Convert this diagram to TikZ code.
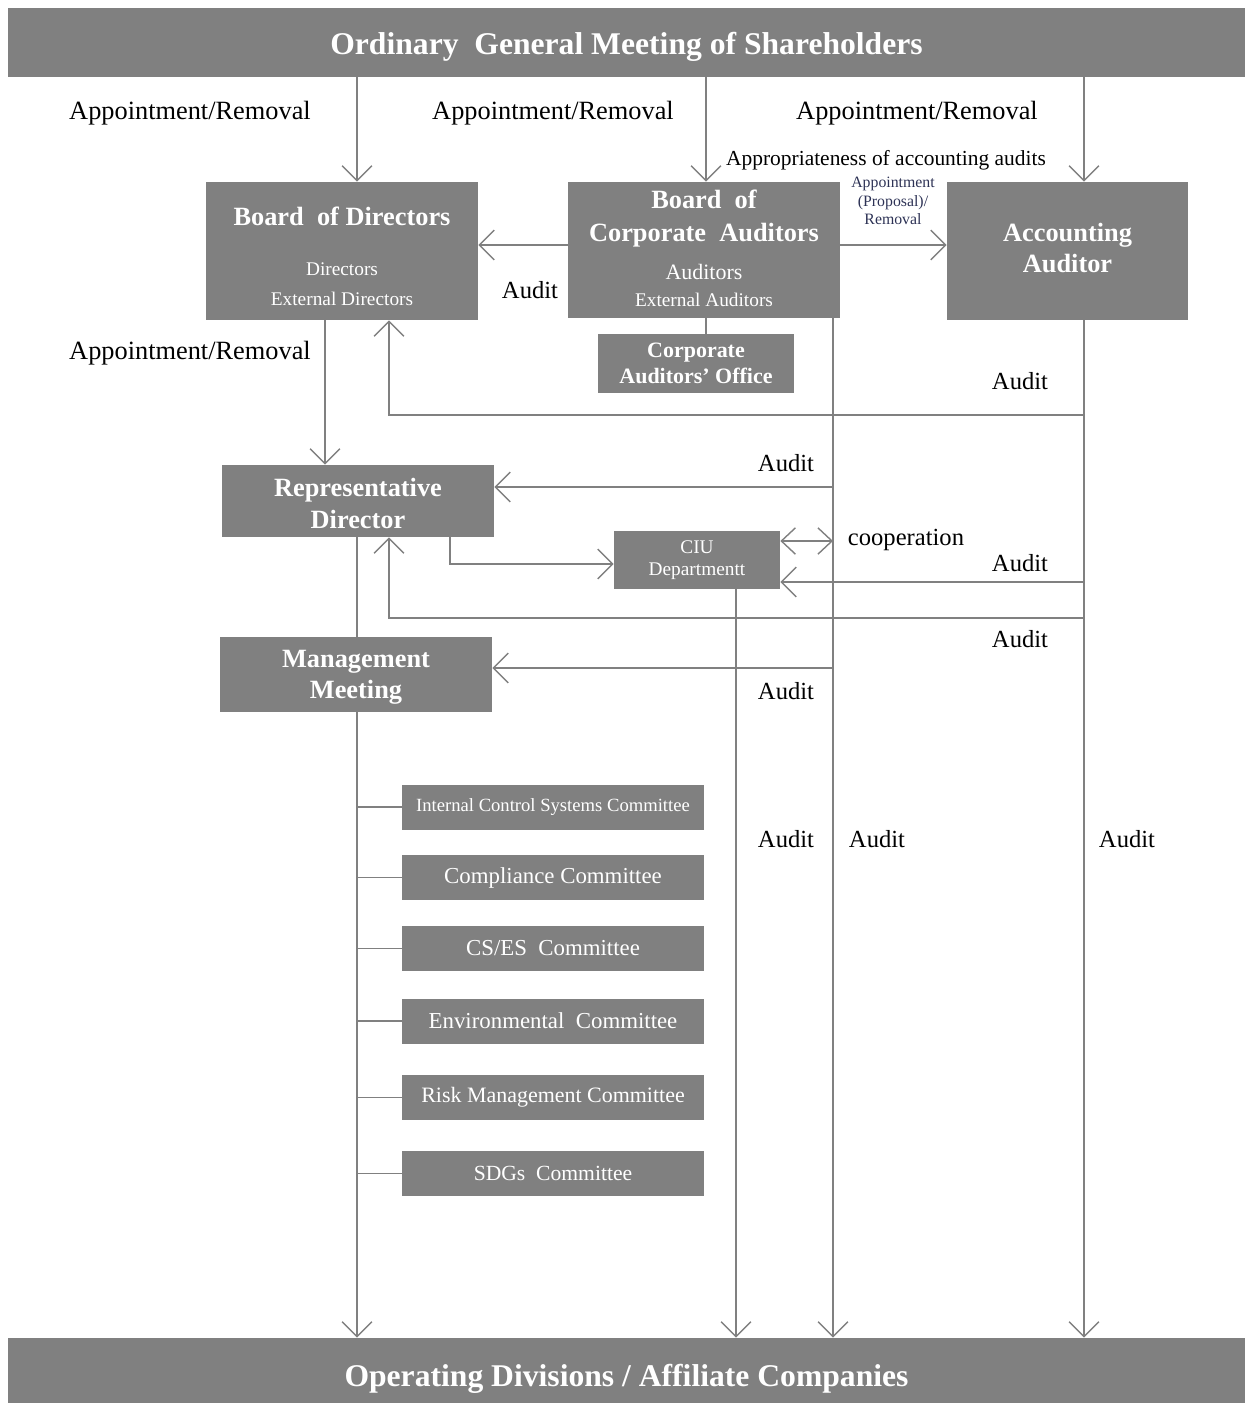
\documentclass[tikz,border=0pt]{standalone}
\usepackage{fontspec}
\setmainfont{Liberation Serif}
\usetikzlibrary{arrows.meta}
\definecolor{smallnavy}{RGB}{45,50,85}
\begin{document}
\begin{tikzpicture}[x=0.02cm, y=-0.02cm,
  bar/.style={fill=gray, text=white, minimum width=24.74cm, inner sep=0pt,
    font=\bfseries\fontsize{18}{21}\selectfont},
  box/.style={fill=gray, text=white, align=center, inner sep=0pt},
  com/.style={box, minimum width=6.04cm, minimum height=0.9cm, font=\fontsize{13}{15}\selectfont},
  lab/.style={font=\fontsize{15}{18}\selectfont},
  aud/.style={font=\fontsize{14}{16}\selectfont},
  ln/.style={draw=gray, line width=0.8pt},
  arr/.style={ln, -{Straight Barb[length=8.5pt, width=17pt]}},
  arrb/.style={ln, {Straight Barb[length=8pt, width=15pt]}-{Straight Barb[length=8pt, width=15pt]}}]
  \useasboundingbox (0,0) rectangle (1245,1403);

  \coordinate (colA) at (357,0);
  \coordinate (colB) at (706,0);
  \coordinate (colC) at (1084,0);
  \coordinate (colD) at (833,0);
  \coordinate (colE) at (736,0);
  \coordinate (colF) at (325,0);
  \coordinate (colG) at (389,0);
  \coordinate (colI) at (450,0);
  \coordinate (rowA) at (0,415);
  \coordinate (rowB) at (0,487);
  \coordinate (rowC) at (0,564);
  \coordinate (rowD) at (0,541);
  \coordinate (rowE) at (0,582);
  \coordinate (rowF) at (0,618);
  \coordinate (rowG) at (0,668);
  \coordinate (rowH) at (0,245);

  \node[bar, minimum height=1.38cm, text height=13.6pt, text depth=0pt] (gms) at (626.5,42.5)
    {Ordinary\ \ General Meeting of Shareholders};
  \node[bar, minimum height=1.3cm, text height=18pt, text depth=0pt] (ops) at (626.5,1370.5)
    {Operating Divisions / Affiliate Companies};

  \node[box, minimum width=5.44cm, minimum height=2.76cm, text height=62.3pt, text depth=0pt, font=\fontsize{11}{17}\selectfont] (bod) at (342,251)
    {{\bfseries\fontsize{15}{18}\selectfont Board\ \ of Directors}\\[11.8pt] Directors\\ External Directors};
  \node[box, minimum width=5.44cm, minimum height=2.72cm, text depth=2.3pt, font=\fontsize{11}{16}\selectfont] (bca) at (704,250)
    {{\bfseries\fontsize{15}{18}\selectfont Board\ \ of}\\[2.7pt]
     {\bfseries\fontsize{15}{18}\selectfont Corporate\ \ Auditors}\\[5.6pt]
     {\fontsize{12.5}{15}\selectfont Auditors}\\[-0.6pt] External Auditors};
  \node[box, minimum width=4.82cm, minimum height=2.76cm, text depth=3.4pt, font=\bfseries\fontsize{15}{18}\selectfont] (aa) at (1067.5,251)
    {Accounting\\Auditor};
  \node[box, minimum width=3.92cm, minimum height=1.18cm, font=\bfseries\fontsize{12.5}{14.7}\selectfont] (cao) at (696,363.5)
    {Corporate\\Auditors’ Office};
  \node[box, minimum width=5.44cm, minimum height=1.44cm, text height=31pt, text depth=0pt, font=\bfseries\fontsize{15}{18}\selectfont] (rd) at (358,501)
    {Representative\\Director};
  \node[box, minimum width=3.32cm, minimum height=1.16cm, font=\fontsize{11}{12.5}\selectfont] (ciu) at (697,560)
    {CIU\\Departmentt};
  \node[box, minimum width=5.44cm, minimum height=1.5cm, text depth=-2pt, font=\bfseries\fontsize{15}{17.6}\selectfont] (mm) at (356,674.5)
    {Management\\Meeting};

  \node[com, font=\fontsize{10.6}{12}\selectfont] (ics) at (553,807) {Internal Control Systems Committee};
  \node[com] (cmp) at (553,877.5) {Compliance Committee};
  \node[com] (cses) at (553,948.5) {CS/ES\ \ Committee};
  \node[com] (env) at (553,1021) {Environmental\ \ Committee};
  \node[com, font=\fontsize{12.5}{15}\selectfont] (risk) at (553,1097.5) {Risk Management Committee};
  \node[com, font=\fontsize{12.3}{15}\selectfont] (sdg) at (553,1173.5) {SDGs\ \ Committee};

  \node[lab] (l1) at (190,113) {Appointment/Removal};
  \node[lab] (l2) at (553,113) {Appointment/Removal};
  \node[lab] (l3) at (917,113) {Appointment/Removal};
  \node[lab] (l4) at (190,353) {Appointment/Removal};
  \node[font=\fontsize{12.2}{14}\selectfont] (l5) at (886,160) {Appropriateness of accounting audits};
  \node[align=center, text=smallnavy, font=\fontsize{9}{10.5}\selectfont] (l6) at (893,201) {Appointment\\(Proposal)/\\Removal};
  \node[aud] (a1) at (530,290) {Audit};
  \node[aud] (a2) at (1020,381) {Audit};
  \node[aud] (a3) at (786,463) {Audit};
  \node[aud] (a4) at (1020,563) {Audit};
  \node[aud] (a5) at (1020,639) {Audit};
  \node[aud] (a6) at (786,691) {Audit};
  \node[aud] (a7) at (786,839) {Audit};
  \node[aud] (a8) at (877,839) {Audit};
  \node[aud] (a9) at (1127,839) {Audit};
  \node[aud] (coop) at (906,540) {cooperation};

  \draw[arr] (gms.south -| colA) -- (bod.north -| colA);
  \draw[arr] (gms.south -| colB) -- (bca.north -| colB);
  \draw[arr] (gms.south -| colC) -- (aa.north -| colC);
  \draw[arr] (bca.west |- rowH) -- (bod.east |- rowH);
  \draw[arr] (bca.east |- rowH) -- (aa.west |- rowH);
  \draw[ln] (bca.south -| colB) -- (cao.north -| colB);
  \draw[arr] (bod.south -| colF) -- (rd.north -| colF);
  \draw[arr] (aa.south -| colC) -- (ops.north -| colC);
  \draw[arr] (rowA -| colC) -- (rowA -| colG) -- (bod.south -| colG);
  \draw[arr] (bca.south -| colD) -- (ops.north -| colD);
  \draw[arr] (rowB -| colD) -- (rd.east |- rowB);
  \draw[arr] (rowG -| colD) -- (mm.east |- rowG);
  \draw[arr] (rd.south -| colI) |- (ciu.west |- rowC);
  \draw[arrb] (ciu.east |- rowD) -- (rowD -| colD);
  \draw[arr] (rowE -| colC) -- (ciu.east |- rowE);
  \draw[arr] (rowF -| colC) -- (rowF -| colG) -- (rd.south -| colG);
  \draw[arr] (ciu.south -| colE) -- (ops.north -| colE);
  \draw[ln] (rd.south -| colA) -- (mm.north -| colA);
  \draw[arr] (mm.south -| colA) -- (ops.north -| colA);

  \foreach \c in {ics,cmp,cses,env,risk,sdg}
    \draw[ln] (\c.west -| colA) -- (\c.west);
\end{tikzpicture}
\end{document}
